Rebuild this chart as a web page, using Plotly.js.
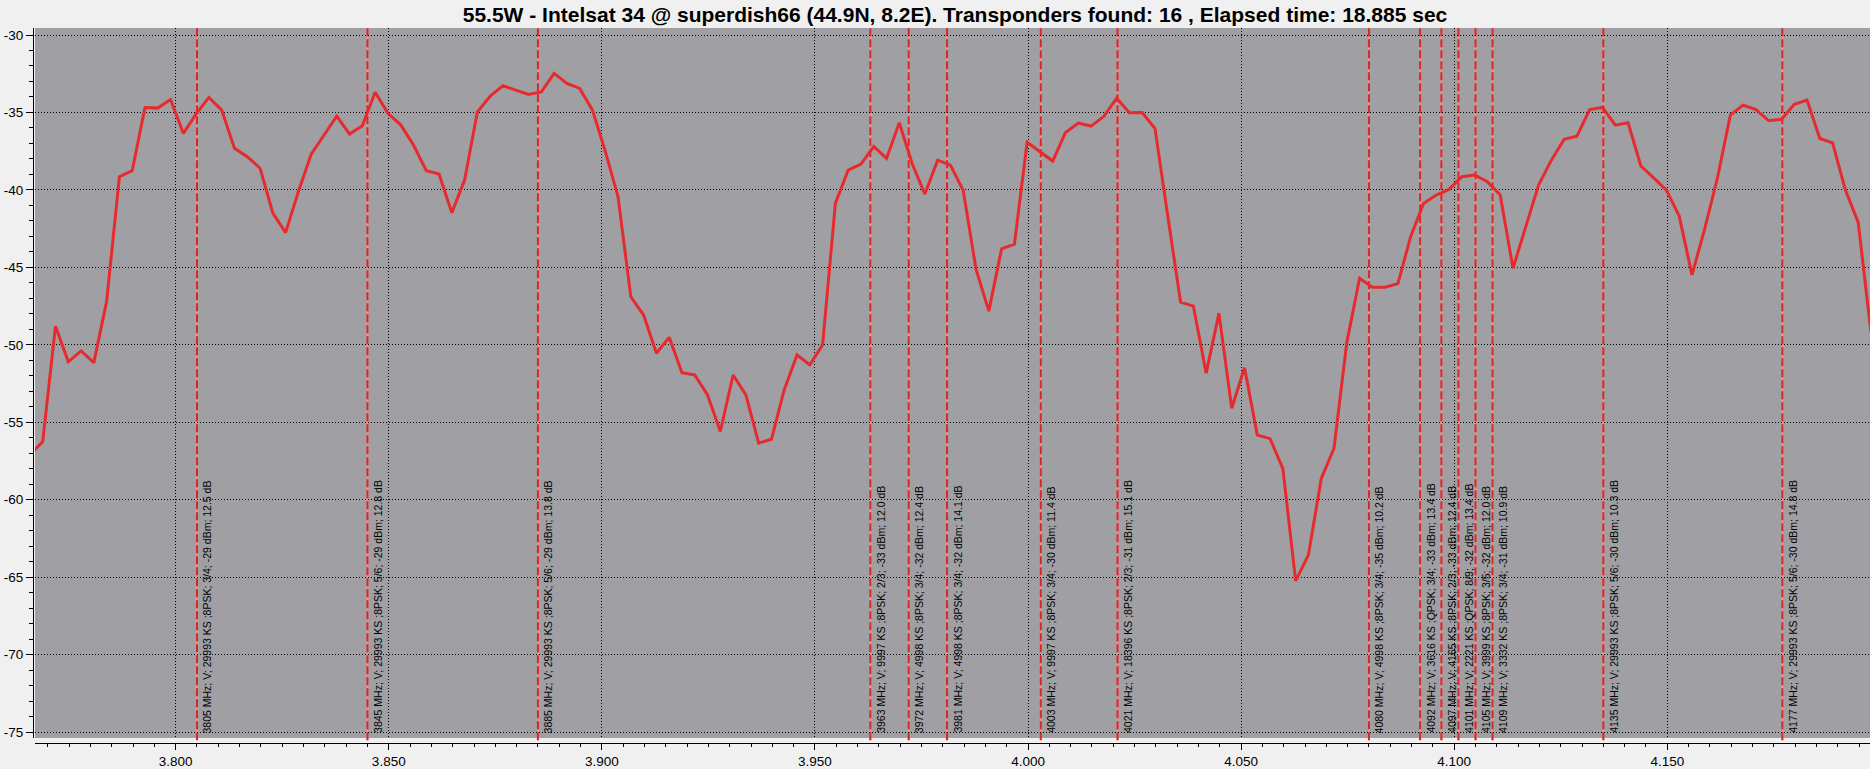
<!DOCTYPE html>
<html>
<head>
<meta charset="utf-8">
<script src="https://cdn.plot.ly/plotly-3.0.1.min.js"></script>
<style>
  html, body { margin: 0; padding: 0; background: #f0f0f0; }
  #chart { width: 1870px; height: 769px; }
</style>
</head>
<body>
<div id="chart"></div>
<script>
// ---- data ----
const chartTitle = "55.5W - Intelsat 34 @ superdish66 (44.9N, 8.2E). Transponders found: 16 , Elapsed time: 18.885 sec";

const freqMHz = [
  3765.8, 3768.8, 3771.8, 3774.8, 3777.8, 3780.8, 3783.8, 3786.8, 3789.8, 3792.8,
  3795.8, 3798.8, 3801.8, 3804.8, 3807.8, 3810.8, 3813.8, 3816.8, 3819.8, 3822.8,
  3825.8, 3828.8, 3831.8, 3834.8, 3837.8, 3840.8, 3843.8, 3846.8, 3849.8, 3852.8,
  3855.8, 3858.8, 3861.8, 3864.8, 3867.8, 3870.8, 3873.8, 3876.8, 3879.8, 3882.8,
  3885.8, 3888.8, 3891.8, 3894.8, 3897.8, 3900.8, 3903.8, 3906.8, 3909.8, 3912.8,
  3915.8, 3918.8, 3921.8, 3924.8, 3927.8, 3930.8, 3933.8, 3936.8, 3939.8, 3942.8,
  3945.8, 3948.8, 3951.8, 3954.8, 3957.8, 3960.8, 3963.8, 3966.8, 3969.8, 3972.8,
  3975.8, 3978.8, 3981.8, 3984.8, 3987.8, 3990.8, 3993.8, 3996.8, 3999.8, 4002.8,
  4005.8, 4008.8, 4011.8, 4014.8, 4017.8, 4020.8, 4023.8, 4026.8, 4029.8, 4032.8,
  4035.8, 4038.8, 4041.8, 4044.8, 4047.8, 4050.8, 4053.8, 4056.8, 4059.8, 4062.8,
  4065.8, 4068.8, 4071.8, 4074.8, 4077.8, 4080.8, 4083.8, 4086.8, 4089.8, 4092.8,
  4095.8, 4098.8, 4101.8, 4104.8, 4107.8, 4110.8, 4113.8, 4116.8, 4119.8, 4122.8,
  4125.8, 4128.8, 4131.8, 4134.8, 4137.8, 4140.8, 4143.8, 4146.8, 4149.8, 4152.8,
  4155.8, 4158.8, 4161.8, 4164.8, 4167.8, 4170.8, 4173.8, 4176.8, 4179.8, 4182.8,
  4185.8, 4188.8, 4191.8, 4194.8, 4197.8
];

const levelDbm = [
  -57.1, -56.25, -48.8, -51.1, -50.4, -51.15, -47.2, -39.15, -38.76, -34.68,
  -34.72, -34.16, -36.35, -35.1, -34.03, -34.85, -37.32, -37.86, -38.6, -41.5,
  -42.76, -40.1, -37.7, -36.46, -35.24, -36.4, -35.86, -33.7, -35.06, -35.8,
  -37.1, -38.76, -38.98, -41.47, -39.37, -34.96, -33.95, -33.28, -33.56, -33.84,
  -33.67, -32.48, -33.13, -33.45, -34.85, -37.5, -40.44, -46.9, -48.08, -50.55,
  -49.52, -51.8, -51.95, -53.24, -55.6, -51.95, -53.24, -56.35, -56.1, -52.9,
  -50.66, -51.3, -50.0, -40.87, -38.72, -38.33, -37.2, -37.97, -35.67, -38.3,
  -40.27, -38.08, -38.4, -40.04, -45.12, -47.83, -43.81, -43.5, -36.92, -37.54,
  -38.14, -36.29, -35.69, -35.88, -35.25, -34.08, -35.02, -35.0, -36.04, -41.7,
  -47.25, -47.5, -51.83, -47.97, -54.1, -51.48, -55.83, -56.06, -58.0, -65.24,
  -63.57, -58.65, -56.68, -49.86, -45.7, -46.28, -46.28, -46.05, -43.0, -40.87,
  -40.33, -39.97, -39.15, -39.04, -39.47, -40.33, -45.06, -42.37, -39.69, -38.08,
  -36.74, -36.53, -34.81, -34.68, -35.82, -35.67, -38.46, -39.22, -40.01, -41.69,
  -45.49, -42.5, -39.2, -35.17, -34.53, -34.81, -35.54, -35.45, -34.48, -34.2,
  -36.68, -36.96, -40.01, -42.1, -49.2
];

const tpFreqMHz = [3805, 3845, 3885, 3963, 3972, 3981, 4003, 4021, 4080, 4092, 4097, 4101, 4105, 4109, 4135, 4177];
const tpLabels = [
  "3805 MHz; V; 29993 KS ;8PSK; 3/4; -29 dBm; 12.5 dB",
  "3845 MHz; V; 29993 KS ;8PSK; 5/6; -29 dBm; 12.8 dB",
  "3885 MHz; V; 29993 KS ;8PSK; 5/6; -29 dBm; 13.8 dB",
  "3963 MHz; V; 9997 KS ;8PSK; 2/3; -33 dBm; 12.0 dB",
  "3972 MHz; V; 4998 KS ;8PSK; 3/4; -32 dBm; 12.4 dB",
  "3981 MHz; V; 4998 KS ;8PSK; 3/4; -32 dBm; 14.1 dB",
  "4003 MHz; V; 9997 KS ;8PSK; 3/4; -30 dBm; 11.4 dB",
  "4021 MHz; V; 18396 KS ;8PSK; 2/3; -31 dBm; 15.1 dB",
  "4080 MHz; V; 4998 KS ;8PSK; 3/4; -35 dBm; 10.2 dB",
  "4092 MHz; V; 3616 KS ;QPSK; 3/4; -33 dBm; 13.4 dB",
  "4097 MHz; V; 4165 KS ;8PSK; 2/3; -33 dBm; 12.4 dB",
  "4101 MHz; V; 2221 KS ;QPSK; 8/9; -32 dBm; 13.4 dB",
  "4105 MHz; V; 3999 KS ;8PSK; 3/5; -32 dBm; 12.0 dB",
  "4109 MHz; V; 3332 KS ;8PSK; 3/4; -31 dBm; 10.9 dB",
  "4135 MHz; V; 29993 KS ;8PSK; 5/6; -30 dBm; 10.3 dB",
  "4177 MHz; V; 29993 KS ;8PSK; 5/6; -30 dBm; 14.8 dB"
];

const xTickVals = [3.80, 3.85, 3.90, 3.95, 4.00, 4.05, 4.10, 4.15];
const xTickText = ["3.800", "3.850", "3.900", "3.950", "4.000", "4.050", "4.100", "4.150"];
const yTickVals = [-30, -35, -40, -45, -50, -55, -60, -65, -70, -75];
const yTickText = ["-30", "-35", "-40", "-45", "-50", "-55", "-60", "-65", "-70", "-75"];

// ---- chart ----
const xGHz = freqMHz.map(f => f / 1000);
const tpGHz = tpFreqMHz.map(f => f / 1000);

const traces = [{
  type: 'scatter',
  mode: 'lines',
  x: xGHz,
  y: levelDbm,
  line: { color: '#e62a2d', width: 3 },
  hoverinfo: 'skip',
  cliponaxis: true
}];

const shapes = [];
tpGHz.forEach(f => {
  shapes.push({
    type: 'line', xref: 'x', yref: 'paper', x0: f, x1: f, y0: 0.004, y1: 1,
    line: { color: '#d69a9c', width: 2 }, layer: 'below'
  });
  shapes.push({
    type: 'line', xref: 'x', yref: 'paper', x0: f, x1: f, y0: 0.004, y1: 1,
    line: { color: '#dc2626', width: 2, dash: '8px,3px' }, layer: 'below'
  });
});

const annotations = tpGHz.map((f, i) => ({
  x: f, y: -75, xref: 'x', yref: 'y',
  text: tpLabels[i],
  showarrow: false,
  textangle: -90,
  xanchor: 'left', yanchor: 'bottom',
  xshift: 2, yshift: -3,
  font: { family: 'Liberation Sans, Arial, sans-serif', size: 10.5, color: '#000000' }
}));

const axisFont = { family: 'Liberation Sans, Arial, sans-serif', size: 13.5, color: '#000000' };

const layout = {
  width: 1870,
  height: 769,
  margin: { l: 33, r: 0, t: 28, b: 26, pad: 0 },
  paper_bgcolor: '#f0f0f0',
  plot_bgcolor: '#a0a0a4',
  showlegend: false,
  title: {
    text: '<b>' + chartTitle + '</b>',
    font: { family: 'Liberation Sans, Arial, sans-serif', size: 21, color: '#000000' },
    x: 0.5107, xref: 'container', xanchor: 'center',
    y: 1 - 15 / 769, yref: 'container', yanchor: 'middle'
  },
  xaxis: {
    domain: [2 / 1837, 1],
    range: [3.76699, 4.19757],
    anchor: 'free', position: 0,
    tickmode: 'array', tickvals: xTickVals, ticktext: xTickText,
    ticks: 'outside', ticklen: 6, tickwidth: 1, tickcolor: '#000000',
    showline: true, linecolor: '#000000', linewidth: 1,
    showgrid: true, gridcolor: '#000000', gridwidth: 1, griddash: '1px,2px',
    zeroline: false,
    tickfont: axisFont,
    minor: { dtick: 0.005, tick0: 3.8, ticks: 'outside', ticklen: 3, tickcolor: '#000000', showgrid: false }
  },
  yaxis: {
    domain: [5 / 715, 1],
    range: [-75.387, -29.548],
    anchor: 'free', position: 0,
    tickmode: 'array', tickvals: yTickVals, ticktext: yTickText,
    ticks: 'outside', ticklen: 7, tickwidth: 1, tickcolor: '#000000',
    showline: true, linecolor: '#000000', linewidth: 1,
    showgrid: true, gridcolor: '#000000', gridwidth: 1, griddash: '1px,2px',
    zeroline: false,
    tickfont: axisFont,
    minor: { dtick: 1, tick0: -30, ticks: 'outside', ticklen: 4, tickcolor: '#000000', showgrid: false }
  },
  shapes: shapes,
  annotations: annotations
};

Plotly.newPlot('chart', traces, layout, { displayModeBar: false, staticPlot: true });
</script>
</body>
</html>
